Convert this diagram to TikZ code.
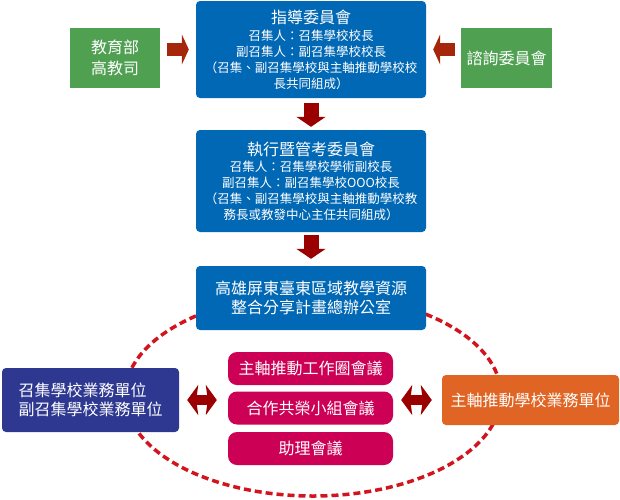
\documentclass[tikz,border=0pt]{standalone}
\usepackage{fontspec}
\setmainfont{Noto Sans CJK TC}
\usetikzlibrary{arrows.meta}
\definecolor{boxblue}{RGB}{0,104,181}
\definecolor{boxgreen}{RGB}{80,160,82}
\definecolor{boxpink}{RGB}{204,0,85}
\definecolor{boxpurple}{RGB}{46,56,145}
\definecolor{boxorange}{RGB}{224,100,35}
\definecolor{arrowred}{RGB}{155,0,0}
\definecolor{arrowbrown}{RGB}{165,38,10}
\definecolor{ringred}{RGB}{210,20,30}
\def\titlefont{\fontsize{16}{19}\selectfont}
\def\smallfont{\fontsize{12.5}{15.7}\selectfont}
\tikzset{
	bluebox/.style={fill=boxblue, rounded corners=4pt, text=white, minimum width=230pt, inner sep=0pt, align=center, font=\smallfont},
	greenbox/.style={fill=boxgreen, text=white, minimum width=90pt, minimum height=60pt, inner sep=0pt, align=center, font=\fontsize{16}{21}\selectfont},
	meetbox/.style={fill=boxpink, rounded corners=9pt, text=white, minimum width=165pt, minimum height=33pt, inner sep=0pt, font=\titlefont},
	unitbox/.style={rounded corners=4pt, text=white, minimum width=177pt, inner sep=0pt, font=\titlefont},
	downarrow/.style={draw=arrowred, line width=15pt, -{Triangle[length=10pt, width=29pt]}},
	sidearrow/.style={draw=arrowbrown, line width=13pt, -{Triangle[length=7pt, width=30pt]}},
	linkarrow/.style={draw=arrowred, line width=10pt, {Stealth[length=11pt, width=30pt, inset=2pt]}-{Stealth[length=11pt, width=30pt, inset=2pt]}},
	ringline/.style={draw=ringred, line width=3.5pt, dash pattern=on 7pt off 4pt}
}

\begin{document}
\begin{tikzpicture}[x=1pt, y=-1pt]
			%%%%% START %%%%%
			
			\useasboundingbox (0, 0) rectangle (620, 499);
			
			\draw[ringline] (313, 395) ellipse [x radius=188pt, y radius=101pt];
			
			\node[bluebox, minimum height=97pt] (guide) at (311, 49.5) {{\titlefont 指導委員會}\\[2pt] 召集人：召集學校校長\hspace*{1.6em}\\ 副召集人：副召集學校校長\\ （召集、副召集學校與主軸推動學校校\\ 長共同組成）};
			\node[bluebox, minimum height=102pt] (exec) at (311, 181) {{\titlefont 執行暨管考委員會}\\[1pt] 召集人：召集學校學術副校長\hspace*{2em}\\ 副召集人：副召集學校OOO校長\\ （召集、副召集學校與主軸推動學校教\\ 務長或教發中心主任共同組成）};
			\node[bluebox, minimum height=64pt, font=\titlefont] (office) at (311, 298) {高雄屏東臺東區域教學資源\\ 整合分享計畫總辦公室};
			
			\node[greenbox] (moe) at (115, 58) {教育部\\ 高教司};
			\node[greenbox, minimum width=91pt] (advisory) at (506.5, 58) {諮詢委員會};
			
			\node[meetbox] (wgmeet) at (310.5, 368.5) {主軸推動工作圈會議};
			\node[meetbox] (coopmeet) at (310.5, 408) {合作共榮小組會議};
			\node[meetbox] (asstmeet) at (310.5, 448.5) {助理會議};
			
			\node[unitbox, fill=boxpurple, minimum height=64pt, align=left] (convener) at (90.5, 400) {召集學校業務單位\\ 副召集學校業務單位};
			\node[unitbox, fill=boxorange, minimum height=50pt] (leadunit) at (530.5, 400) {主軸推動學校業務單位};
			
			\draw[sidearrow] ([xshift=7pt]moe.east |- guide.west) -- ([xshift=-7pt]guide.west);
			\draw[sidearrow] ([xshift=-6pt]advisory.west |- guide.east) -- ([xshift=7pt]guide.east);
			
			\draw[downarrow] ([yshift=-5pt]guide.south) -- ([yshift=3pt]exec.north);
			\draw[downarrow] ([yshift=-3pt]exec.south) -- ([yshift=7pt]office.north);
			
			\draw[linkarrow] ([xshift=8pt]convener.east) -- ([xshift=-11pt]coopmeet.west |- convener.east);
			\draw[linkarrow] ([xshift=8pt]coopmeet.east |- leadunit.west) -- ([xshift=-10pt]leadunit.west);
			
			%%%%% END %%%%%
\end{tikzpicture}
\end{document}
